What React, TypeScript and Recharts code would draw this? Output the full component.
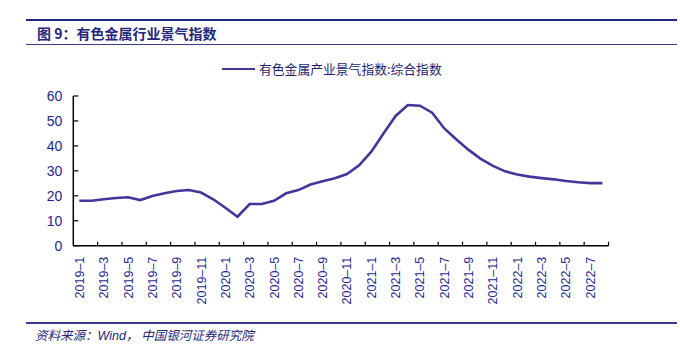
import { LineChart, Line, XAxis, YAxis } from 'recharts';

// 2019-1 .. 2022-8
const months: string[] = [];
for (let y = 2019; y <= 2022; y++) {
  for (let m = 1; m <= 12; m++) {
    if (y === 2022 && m > 8) break;
    months.push(`${y}–${m}`);
  }
}

const indexValues = [
  18.0, 18.0, 18.6, 19.1, 19.4, 18.3, 19.9, 21.0, 21.9, 22.3,
  21.3, 18.6, 15.2, 11.6, 16.7, 16.7, 18.0, 21.0, 22.3, 24.5,
  25.8, 27.0, 28.7, 32.2, 37.7, 45.0, 52.0, 56.4, 56.1, 53.3,
  47.0, 42.6, 38.4, 34.8, 32.0, 29.8, 28.5, 27.7, 27.1, 26.6,
  25.9, 25.4, 25.1, 25.1,
];

const yTicks = [0, 10, 20, 30, 40, 50, 60];

const seriesName = '有色金属产业景气指数:综合指数';

// category i sits in the middle of slot [i, i+1]
const data = months.map((m, i) => ({ pos: i + 0.5, month: m, value: indexValues[i] }));

// labels on every other month, tick marks on every second slot boundary
const xTicks: number[] = [];
for (let i = 0; i < months.length; i += 2) {
  xTicks.push(i + 0.5);
  xTicks.push(i + 2);
}

const NAVY = '#1f1f8f';
const LINE = '#41379a';

const XTick = (props: any) => {
  const { x, y, payload } = props;
  const v = payload.value as number;
  if (Number.isInteger(v)) {
    return <line x1={x} x2={x} y1={y} y2={y - 4} stroke="#000" strokeWidth={1.2} />;
  }
  return (
    <g transform={`translate(${x},${y + 11})`}>
      <text
        transform="rotate(-90)"
        textAnchor="end"
        dy="0.36em"
        fill={NAVY}
        fontSize={12.5}
        fontFamily="Liberation Sans, Arial, sans-serif"
      >
        {months[v - 0.5]}
      </text>
    </g>
  );
};

const YTick = (props: any) => {
  const { x, y, payload } = props;
  return (
    <g>
      <line x1={x} x2={x + 5} y1={y} y2={y} stroke="#000" strokeWidth={1.2} />
      <text
        x={x - 11}
        y={y}
        dy="0.36em"
        textAnchor="end"
        fill={NAVY}
        fontSize={14}
        fontFamily="Liberation Sans, Arial, sans-serif"
      >
        {payload.value}
      </text>
    </g>
  );
};

const App = () => {
  return (
    <div style={{ position: 'absolute', left: 0, top: 0, width: 680, height: 353, background: '#fff' }}>
      <div style={{ position: 'absolute', left: 26, top: 19, width: 651, height: 2, background: '#24248a' }} />
      <div
        style={{
          position: 'absolute',
          left: 37,
          top: 24,
          fontSize: 14,
          fontWeight: 'bold',
          color: '#26267a',
          fontFamily: '"Noto Sans CJK SC", sans-serif',
          whiteSpace: 'nowrap',
          lineHeight: '18px',
        }}
      >
        图 9：有色金属行业景气指数
      </div>
      <div style={{ position: 'absolute', left: 26, top: 43.5, width: 651, height: 1.5, background: '#3a3a94' }} />

      <div style={{ position: 'absolute', left: 222, top: 61, display: 'flex', alignItems: 'center', whiteSpace: 'nowrap' }}>
        <span style={{ display: 'inline-block', width: 33, height: 2.5, background: LINE, marginRight: 4 }} />
        <span
          style={{
            fontSize: 12.8,
            color: '#1f1f6f',
            fontFamily: '"Noto Sans CJK SC", sans-serif',
            lineHeight: '16px',
          }}
        >
          {seriesName}
        </span>
      </div>

      <div style={{ position: 'absolute', left: 0, top: 0 }}>
        <LineChart width={680} height={353} data={data} margin={{ top: 96, right: 71.5, left: 0, bottom: 0 }}>
          <XAxis
            dataKey="pos"
            type="number"
            domain={[0, months.length]}
            ticks={xTicks}
            interval={0}
            tickLine={false}
            tickSize={0}
            tickMargin={0}
            tick={<XTick />}
            axisLine={{ stroke: '#000', strokeWidth: 1.5 }}
            height={107.3}
          />
          <YAxis
            type="number"
            domain={[0, 60]}
            ticks={yTicks}
            interval={0}
            tickLine={false}
            tickSize={0}
            tickMargin={0}
            tick={<YTick />}
            axisLine={{ stroke: '#000', strokeWidth: 1.5 }}
            width={73.3}
          />
          <Line
            dataKey="value"
            name={seriesName}
            type="linear"
            stroke={LINE}
            strokeWidth={2.6}
            dot={false}
            isAnimationActive={false}
          />
        </LineChart>
      </div>

      <div style={{ position: 'absolute', left: 26, top: 322, width: 651, height: 2, background: '#3a3a94' }} />
      <div
        style={{
          position: 'absolute',
          left: 35,
          top: 327,
          fontSize: 12.5,
          fontStyle: 'italic',
          color: '#26267a',
          fontFamily: '"Noto Sans CJK SC", sans-serif',
          whiteSpace: 'nowrap',
          lineHeight: '16px',
        }}
      >
        资料来源：<span style={{ fontFamily: 'Liberation Sans, Arial, sans-serif' }}>Wind</span>，&nbsp;中国银河证券研究院
      </div>
    </div>
  );
};

export default App;
